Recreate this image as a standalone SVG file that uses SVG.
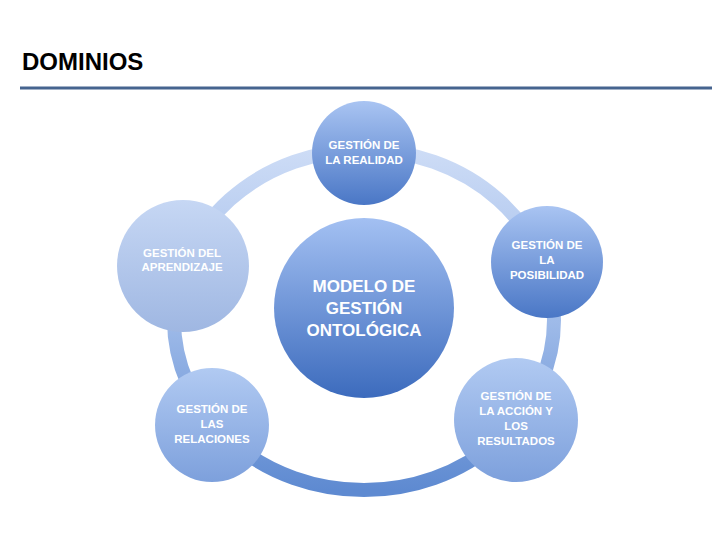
<svg xmlns="http://www.w3.org/2000/svg" width="720" height="540" viewBox="0 0 720 540">
<defs>
<linearGradient id="ring" x1="0" y1="0" x2="0" y2="1">
<stop offset="0" stop-color="#cddcf6"/>
<stop offset="0.5" stop-color="#9fbbe9"/>
<stop offset="1" stop-color="#5e8ad1"/>
</linearGradient>
<linearGradient id="dark" x1="0" y1="0" x2="0" y2="1">
<stop offset="0" stop-color="#a9c4f2"/>
<stop offset="1" stop-color="#4a77c6"/>
</linearGradient>
<linearGradient id="mid" x1="0" y1="0" x2="0" y2="1">
<stop offset="0" stop-color="#b1caf2"/>
<stop offset="1" stop-color="#7da0dc"/>
</linearGradient>
<linearGradient id="light" x1="0" y1="0" x2="0" y2="1">
<stop offset="0" stop-color="#c6d7f4"/>
<stop offset="1" stop-color="#9fb7e2"/>
</linearGradient>
<linearGradient id="center" x1="0" y1="0" x2="0" y2="1">
<stop offset="0" stop-color="#a3c0f2"/>
<stop offset="1" stop-color="#3c6bbd"/>
</linearGradient>
</defs>
<style>
.t{font-family:"Liberation Sans",Arial,sans-serif;fill:#ffffff;text-anchor:middle;font-size:11.5px;font-weight:bold}
.c{font-size:17px}
</style>
<rect width="720" height="540" fill="#ffffff"/>
<text x="22" y="70" font-family="Liberation Sans,Arial,sans-serif" font-weight="bold" font-size="24" fill="#000000">DOMINIOS</text>
<line x1="20" y1="88" x2="712" y2="88" stroke="#46648f" stroke-width="3"/>
<g id="connectors">
<ellipse cx="364" cy="320" rx="190" ry="170" fill="none" stroke="url(#ring)" stroke-width="14"/>
</g>
<g id="n-realidad">
<circle cx="364" cy="153" r="52" fill="url(#dark)"/>
<text class="t" x="364" y="149">GESTIÓN DE</text>
<text class="t" x="364" y="164">LA REALIDAD</text>
</g>
<g id="n-aprendizaje">
<circle cx="183" cy="266" r="66" fill="url(#light)"/>
<text class="t" x="182" y="257">GESTIÓN DEL</text>
<text class="t" x="182" y="271">APRENDIZAJE</text>
</g>
<g id="n-posibilidad">
<circle cx="547" cy="262" r="56" fill="url(#dark)"/>
<text class="t" x="547" y="249">GESTIÓN DE</text>
<text class="t" x="547" y="264">LA</text>
<text class="t" x="547" y="279">POSIBILIDAD</text>
</g>
<g id="n-relaciones">
<circle cx="212" cy="425" r="57" fill="url(#mid)"/>
<text class="t" x="212" y="413">GESTIÓN DE</text>
<text class="t" x="212" y="428">LAS</text>
<text class="t" x="212" y="443">RELACIONES</text>
</g>
<g id="n-accion">
<circle cx="516" cy="420" r="62" fill="url(#mid)"/>
<text class="t" x="516" y="400">GESTIÓN DE</text>
<text class="t" x="516" y="415">LA ACCIÓN Y</text>
<text class="t" x="516" y="430">LOS</text>
<text class="t" x="516" y="445">RESULTADOS</text>
</g>
<g id="n-modelo">
<circle cx="364" cy="308" r="90" fill="url(#center)"/>
<text class="t c" x="364" y="292">MODELO DE</text>
<text class="t c" x="364" y="314">GESTIÓN</text>
<text class="t c" x="364" y="336">ONTOLÓGICA</text>
</g>
</svg>
